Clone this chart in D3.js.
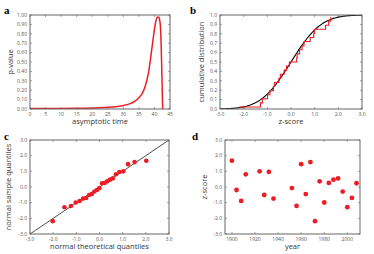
<!DOCTYPE html>
<meta charset="utf-8">
<style>
body { margin: 0; background: #fff; }
svg { display: block; }
</style>
<svg width="374" height="254"></svg>
<script src="https://cdnjs.cloudflare.com/ajax/libs/d3/7.8.5/d3.min.js"></script>
<script>

// panel a: p-value vs asymptotic time
var asymTime = [0, 5, 10, 15, 20, 25, 28, 30, 32, 34, 35, 36, 37, 38, 38.6, 39, 39.6, 40, 40.5, 41, 41.4, 41.8, 42.1, 42.3, 42.5, 42.65],
    pValue   = [0.004, 0.005, 0.006, 0.008, 0.011, 0.018, 0.027, 0.037, 0.055, 0.09, 0.12, 0.16, 0.24, 0.37, 0.5, 0.6, 0.75, 0.85, 0.94, 0.98, 0.975, 0.92, 0.75, 0.5, 0.2, 0];

// panel d: z-scores by year
var years  = [1900, 1904, 1908, 1912, 1924, 1928, 1932, 1936, 1952, 1956, 1960, 1964, 1968, 1972, 1976, 1980, 1984, 1988, 1992, 1996, 2000, 2004, 2008],
    zScore = [1.68, -0.19, -0.89, 0.81, 1.00, -0.51, 0.96, -0.74, -0.07, -1.21, 1.46, -0.45, 1.59, -2.18, 0.36, -0.99, 0.26, 0.47, 0.55, -0.29, -1.29, -0.70, 0.24];

var ticksA = { x: d3.range(0, 46, 5), y: d3.range(0, 1.01, 0.1) },
    ticksZ = d3.range(-3, 3.01, 1),
    ticksP = d3.range(0, 1.01, 0.1),
    ticksYear = [1900, 1920, 1940, 1960, 1980, 2000];

var red = "#ee1c25",
    frameColor = "#666",
    font = "'Open Sans', 'DejaVu Sans', sans-serif";

var svg = d3.select("svg");

function fmt(spec) {
  var f = d3.format(spec);
  return function(d) { return f(d).replace("\u2212", "-"); };
}

// normal cdf / quantile
function erf(x) {
  var s = x < 0 ? -1 : 1; x = Math.abs(x);
  var t = 1 / (1 + 0.3275911 * x);
  var y = 1 - (((((1.061405429 * t - 1.453152027) * t) + 1.421413741) * t - 0.284496736) * t + 0.254829592) * t * Math.exp(-x * x);
  return s * y;
}
function ncdf(x) { return 0.5 * (1 + erf(x / Math.SQRT2)); }
function nquantile(p) {
  var lo = -8, hi = 8;
  for (var i = 0; i < 60; ++i) {
    var m = (lo + hi) / 2;
    if (ncdf(m) < p) lo = m; else hi = m;
  }
  return (lo + hi) / 2;
}

function panel(o) {
  var g = svg.append("g");
  var x = o.x, y = o.y;
  var x0 = x.range()[0], x1 = x.range()[1], y0 = y.range()[1], y1 = y.range()[0];

  var clipId = "clip" + o.label;
  g.append("clipPath").attr("id", clipId)
    .append("rect").attr("x", x0).attr("y", y0).attr("width", x1 - x0).attr("height", y1 - y0);

  var plot = g.append("g").attr("clip-path", "url(#" + clipId + ")");
  o.draw(plot, x, y);

  // frame with inward ticks
  g.append("rect")
    .attr("x", x0).attr("y", y0).attr("width", x1 - x0).attr("height", y1 - y0)
    .attr("fill", "none").attr("stroke", frameColor).attr("stroke-width", 1);

  var tl = 2;
  o.xTicks.forEach(function(t) {
    var px = x(t);
    g.append("line").attr("x1", px).attr("x2", px).attr("y1", y1).attr("y2", y1 - tl).attr("stroke", frameColor).attr("stroke-width", 0.6);
    g.append("line").attr("x1", px).attr("x2", px).attr("y1", y0).attr("y2", y0 + tl).attr("stroke", frameColor).attr("stroke-width", 0.6);
    g.append("text").attr("x", px).attr("y", y1 + 7)
      .attr("text-anchor", "middle").attr("font-family", font).attr("font-size", 5).attr("fill", "#555")
      .text(o.xFmt(t));
  });
  o.yTicks.forEach(function(t) {
    var py = y(t);
    g.append("line").attr("y1", py).attr("y2", py).attr("x1", x0).attr("x2", x0 + tl).attr("stroke", frameColor).attr("stroke-width", 0.6);
    g.append("line").attr("y1", py).attr("y2", py).attr("x1", x1).attr("x2", x1 - tl).attr("stroke", frameColor).attr("stroke-width", 0.6);
    g.append("text").attr("x", x0 - 3).attr("y", py + 1.8)
      .attr("text-anchor", "end").attr("font-family", font).attr("font-size", 5).attr("fill", "#555")
      .text(o.yFmt(t));
  });

  g.append("text").attr("x", (x0 + x1) / 2).attr("y", y1 + 15)
    .attr("text-anchor", "middle").attr("font-family", font).attr("font-size", 7.5).attr("fill", "#333")
    .text(o.xTitle);
  g.append("text")
    .attr("transform", "translate(" + o.yTitleX + "," + (y0 + y1) / 2 + ") rotate(-90)")
    .attr("text-anchor", "middle").attr("font-family", font).attr("font-size", 7.5).attr("fill", "#333")
    .text(o.yTitle);

  g.append("text").attr("x", o.labelPos[0]).attr("y", o.labelPos[1])
    .attr("font-family", "'Liberation Serif', 'DejaVu Serif', serif").attr("font-weight", "bold").attr("font-size", 11).attr("fill", "#000")
    .text(o.label);
}

// a
panel({
  label: "a", labelPos: [4, 14],
  x: d3.scaleLinear().domain([0, 45]).range([30, 170]),
  y: d3.scaleLinear().domain([0, 1]).range([109, 15]),
  xTicks: ticksA.x, yTicks: ticksA.y, xFmt: fmt("d"), yFmt: fmt(".2f"),
  xTitle: "asymptotic time", yTitle: "p-value", yTitleX: 13,
  draw: function(g, x, y) {
    var line = d3.line().x(function(d) { return x(d[0]); }).y(function(d) { return y(d[1]); }).curve(d3.curveMonotoneX);
    g.append("path").datum(d3.zip(asymTime, pValue))
      .attr("d", line).attr("fill", "none").attr("stroke", red).attr("stroke-width", 1.5);
  }
});

var sorted = zScore.slice().sort(d3.ascending),
    n = sorted.length;

// b
panel({
  label: "b", labelPos: [190, 14],
  x: d3.scaleLinear().domain([-3, 3]).range([220, 362]),
  y: d3.scaleLinear().domain([0, 1]).range([109, 15]),
  xTicks: ticksZ, yTicks: ticksP, xFmt: fmt(".1f"), yFmt: fmt(".1f"),
  xTitle: "z-score", yTitle: "cumulative distribution", yTitleX: 204,
  draw: function(g, x, y) {
    var cdfPts = d3.range(-3, 3.001, 0.05).map(function(z) { return [z, ncdf(z)]; });
    g.append("path").datum(cdfPts)
      .attr("d", d3.line().x(function(d) { return x(d[0]); }).y(function(d) { return y(d[1]); }))
      .attr("fill", "none").attr("stroke", "#000").attr("stroke-width", 1.1);
    var steps = sorted.map(function(v, i) { return [v, (i + 0.5) / n]; });
    g.append("path").datum(steps)
      .attr("d", d3.line().x(function(d) { return x(d[0]); }).y(function(d) { return y(d[1]); }).curve(d3.curveStepAfter))
      .attr("fill", "none").attr("stroke", red).attr("stroke-width", 1.1);
  }
});

// c
panel({
  label: "c", labelPos: [4, 140],
  x: d3.scaleLinear().domain([-3, 3]).range([30, 169]),
  y: d3.scaleLinear().domain([-3, 3]).range([234, 140]),
  xTicks: ticksZ, yTicks: ticksZ, xFmt: fmt(".1f"), yFmt: fmt(".1f"),
  xTitle: "normal theoretical quantiles", yTitle: "normal sample quantiles", yTitleX: 11,
  draw: function(g, x, y) {
    g.append("line").attr("x1", x(-3)).attr("y1", y(-3)).attr("x2", x(3)).attr("y2", y(3))
      .attr("stroke", "#000").attr("stroke-width", 0.7);
    g.selectAll("circle").data(sorted).enter().append("circle")
      .attr("cx", function(d, i) { return x(nquantile((i + 0.5) / n)); })
      .attr("cy", function(d) { return y(d); })
      .attr("r", 2.3).attr("fill", red);
  }
});

// d
panel({
  label: "d", labelPos: [192, 140],
  x: d3.scaleLinear().domain([1894, 2011]).range([225, 360]),
  y: d3.scaleLinear().domain([-3, 3]).range([234, 140]),
  xTicks: ticksYear, yTicks: ticksZ, xFmt: fmt("d"), yFmt: fmt(".1f"),
  xTitle: "year", yTitle: "z-score", yTitleX: 207,
  draw: function(g, x, y) {
    g.selectAll("circle").data(d3.zip(years, zScore)).enter().append("circle")
      .attr("cx", function(d) { return x(d[0]); })
      .attr("cy", function(d) { return y(d[1]); })
      .attr("r", 2.4).attr("fill", red);
  }
});

</script>
